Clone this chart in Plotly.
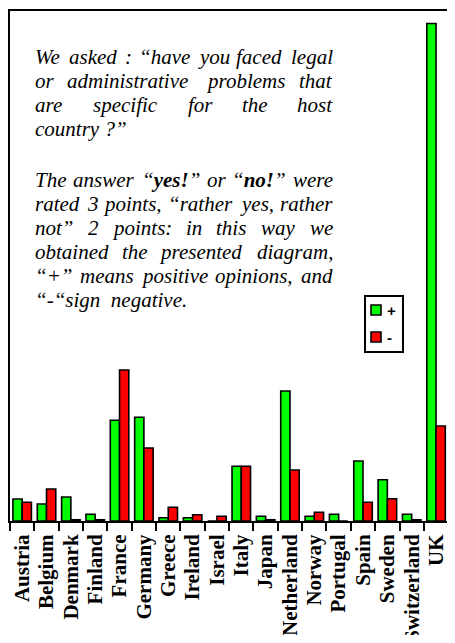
import re
import plotly.graph_objects as go

countries = ["Austria", "Belgium", "Denmark", "Finland", "France", "Germany",
             "Greece", "Ireland", "Israel", "Italy", "Japan", "Netherland",
             "Norway", "Portugal", "Spain", "Sweden", "Switzerland", "UK"]
positive = [8.8, 6.8, 9.6, 2.7, 40.3, 41.5, 1.3, 1.3, 0.0, 21.9, 1.9, 52.0,
            1.9, 2.7, 24.0, 16.5, 2.7, 199.0]
negative = [7.5, 12.8, 0.5, 0.5, 60.4, 29.2, 5.5, 2.5, 1.9, 21.9, 0.5, 20.4,
            3.5, 0.0, 7.5, 8.9, 0.5, 38.0]
series_names = ["+", "-"]
series_colors = ["#00FF00", "#FF0000"]

paragraph1 = ["We asked : “have you faced legal",
              "or administrative problems that",
              "are specific for the host",
              "country ?”"]
paragraph2 = ["The answer “<b>yes!</b>” or “<b>no!</b>” were",
              "rated 3 points, “rather yes, rather",
              "not” 2 points: in this way we",
              "obtained the presented diagram,",
              "“+” means positive opinions, and",
              "“-“sign\u00a0\u00a0negative."]

# ---- layout constants (pixels) ----
PAGE_OFF = 8                 # page body margin around the figure
W, H = 455 - 2 * PAGE_OFF, 643 - 2 * PAGE_OFF
ML, MT, MR = 2, 3, 0
PLOT_H = 510
MB = H - MT - PLOT_H
PLOT_W = W - ML - MR
X0 = PAGE_OFF + ML           # screen x of plot left
Y0 = PAGE_OFF + MT           # screen y of plot top

TEXT_LEFT, TEXT_RIGHT = 35, 333
FS = 21
LINE_H = 24
P1_Y0 = 57
P2_Y0 = 180


def px_x(px):
    return (px - X0) / PLOT_W


def px_y(py):
    return 1 - (py - Y0) / PLOT_H


# approximate advance widths (per 1000 em) of a Times-compatible italic face
_w = dict(a=500, b=500, c=444, d=500, e=444, f=278, g=500, h=500, i=278, j=278,
          k=444, l=278, m=722, n=500, o=500, p=500, q=500, r=389, s=389, t=278,
          u=500, v=444, w=667, x=444, y=444, z=389, T=556, W=833)
_w.update({" ": 250, ",": 250, ".": 250, ":": 333, "?": 500, "!": 333,
           "“": 556, "”": 556, "+": 675, "-": 333, "\u00a0": 250})


def text_width(s):
    s = re.sub(r"<[^>]+>", "", s)
    return 1.03 * sum(_w.get(ch, 500 if ch.isdigit() else 611) for ch in s) * FS / 1000.0


fig = go.Figure()
for name, vals, col in zip(series_names, [positive, negative], series_colors):
    fig.add_trace(go.Bar(x=countries, y=vals, name=name,
                         marker=dict(color=col, line=dict(color="black", width=1.6))))

annotations = []
shapes = []
font = dict(family="Liberation Serif", size=FS, color="black", style="italic")


def add_text(text, px, py, xanchor):
    annotations.append(dict(text=text, xref="paper", yref="paper", x=0, y=1,
                            xanchor=xanchor, yanchor="middle",
                            xshift=px - X0, yshift=-(py - Y0),
                            borderpad=0, borderwidth=0,
                            showarrow=False, font=font))


def add_paragraph(lines, y0):
    for k, line in enumerate(lines):
        py = y0 + k * LINE_H
        last = (k == len(lines) - 1)
        words = line.split(" ")
        if last or len(words) == 1:
            add_text(line, TEXT_LEFT, py, "left")
            continue
        widths = [text_width(wd) for wd in words]
        gap = (TEXT_RIGHT - TEXT_LEFT - sum(widths)) / (len(words) - 1)
        px = TEXT_LEFT
        for i, wd in enumerate(words):
            if i == len(words) - 1:
                add_text(wd, TEXT_RIGHT, py, "right")
            else:
                add_text(wd, px, py, "left")
            px += widths[i] + gap


add_paragraph(paragraph1, P1_Y0)
add_paragraph(paragraph2, P2_Y0)

# ---- legend box (drawn) ----
LEG_L, LEG_R, LEG_T, LEG_B = 365, 403, 296, 352
shapes.append(dict(type="rect", xref="paper", yref="paper",
                   x0=px_x(LEG_L), x1=px_x(LEG_R), y0=px_y(LEG_B), y1=px_y(LEG_T),
                   line=dict(color="black", width=2), fillcolor="white", layer="above"))
for k, (name, col) in enumerate(zip(series_names, series_colors)):
    cy = 310 + k * 27
    shapes.append(dict(type="rect", xref="paper", yref="paper",
                       x0=px_x(371), x1=px_x(381), y0=px_y(cy + 5), y1=px_y(cy - 5),
                       line=dict(color="black", width=1.6), fillcolor=col, layer="above"))
    annotations.append(dict(text="<b>%s</b>" % name, xref="paper", yref="paper",
                            x=px_x(385), y=px_y(cy), xanchor="left", yanchor="middle",
                            showarrow=False,
                            font=dict(family="Liberation Sans", size=15, color="black")))

fig.update_layout(
    width=W, height=H,
    margin=dict(l=ML, r=MR, t=MT, b=MB, pad=0, autoexpand=False),
    paper_bgcolor="white", plot_bgcolor="white",
    barmode="group", bargap=0.24, bargroupgap=0.0,
    showlegend=False,
    annotations=annotations,
    shapes=shapes,
    xaxis=dict(type="category", range=[-0.5, 17.45], automargin=False,
               tickmode="linear", tick0=0, dtick=1,
               showline=True, linecolor="black", linewidth=2, mirror=True,
               ticks="outside", tickson="boundaries", ticklen=8, tickwidth=2,
               tickcolor="black", tickangle=-90, showgrid=False,
               ticklabelstandoff=3,
               tickfont=dict(family="Liberation Serif", size=21, color="black",
                             weight="bold")),
    yaxis=dict(range=[0, 204.0], automargin=False, showline=True,
               linecolor="black", linewidth=2,
               showticklabels=False, ticks="", showgrid=False, zeroline=False),
)

fig.write_html("out.html")
